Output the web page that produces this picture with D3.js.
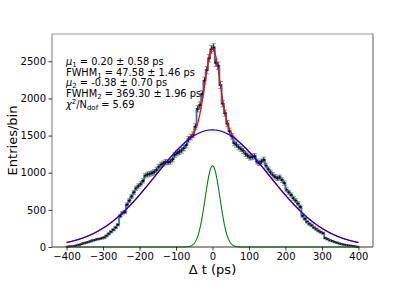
<!DOCTYPE html>
<html><head><meta charset="utf-8">
<script src="https://cdn.jsdelivr.net/npm/d3@7"></script>
<style>body{margin:0;background:#fff}svg{display:block}text{font-family:"DejaVu Sans",sans-serif}</style>
</head><body>
<svg id="c" width="415" height="283"></svg>
<script>
// Histogram: 128 bins of 6.25 ps from -400 to 400
const binStart = -400, binWidth = 6.25;
const counts = [6,9,12,16,22,30,38,50,58,66,76,88,95,104,110,118,128,150,178,205,232,262,300,415,455,470,570,625,680,735,790,820,850,890,960,975,985,995,1010,1040,1080,1110,1125,1145,1140,1150,1180,1240,1262,1280,1300,1330,1372,1450,1480,1510,1620,1860,1910,2060,2240,2380,2540,2660,2685,2480,2440,2180,1930,1800,1660,1560,1490,1400,1378,1345,1320,1295,1255,1230,1205,1215,1222,1150,1130,1150,1175,1095,1045,1005,972,945,925,938,900,860,770,735,700,655,625,585,540,420,380,340,310,290,262,240,218,200,185,120,105,90,80,68,58,48,40,33,27,22,18,12,8,4];
// Fit parameters (double Gaussian)
const mu1 = 0.20, fwhm1 = 47.58, amp1 = 1093;
const mu2 = -0.38, fwhm2 = 369.30, amp2 = 1577;
const xTicks = [-400,-300,-200,-100,0,100,200,300,400];
const yTicks = [0,500,1000,1500,2000,2500];
const fitLines = [
  [["μ",{i:1}],["1",{sub:1}],[" = 0.20 ± 0.58 ps"]],
  [["FWHM"],["1",{sub:1}],[" = 47.58 ± 1.46 ps"]],
  [["μ",{i:1}],["2",{sub:1}],[" = -0.38 ± 0.70 ps"]],
  [["FWHM"],["2",{sub:1}],[" = 369.30 ± 1.96 ps"]],
  [["χ",{i:1}],["2",{sup:1}],["/N"],["dof",{sub:1}],["  = 5.69"]]
];

const svg = d3.select("#c");
const L=52, R=373, T=34, B=247;
const x = d3.scaleLinear().domain([-440,440]).range([L,R]);
const y = d3.scaleLinear().domain([0,2867]).range([B,T]);

const bins = counts.map((v,i)=>({x0:binStart+i*binWidth, x1:binStart+(i+1)*binWidth, c:binStart+(i+0.5)*binWidth, v, e:Math.sqrt(v)}));

const g = svg.append("g");
// step histogram
const stepPts = [];
bins.forEach(b=>{stepPts.push([b.x0,b.v]);stepPts.push([b.x1,b.v]);});
g.append("path").attr("d", d3.line().x(d=>x(d[0])).y(d=>y(d[1]))(stepPts))
 .attr("fill","none").attr("stroke","#1f77b4").attr("stroke-width",1.8);
// error bars
const eb = g.append("g");
bins.forEach(b=>{
  const cx = x(b.c);
  eb.append("line").attr("x1",cx).attr("x2",cx).attr("y1",y(b.v-b.e)).attr("y2",y(b.v+b.e)).attr("stroke","#000").attr("stroke-width",0.9);
  [b.v-b.e,b.v+b.e].forEach(t=>eb.append("line").attr("x1",cx-2.2).attr("x2",cx+2.2).attr("y1",y(t)).attr("y2",y(t)).attr("stroke","#777").attr("stroke-width",1).attr("opacity",0.8));
  eb.append("line").attr("x1",cx-1.2).attr("x2",cx+1.2).attr("y1",y(b.v)).attr("y2",y(b.v)).attr("stroke","#000").attr("stroke-width",1.5);
});
// fit curves
const s1 = fwhm1/(2*Math.sqrt(2*Math.LN2)), s2 = fwhm2/(2*Math.sqrt(2*Math.LN2));
const g1 = t=>amp1*Math.exp(-0.5*((t-mu1)/s1)**2);
const g2 = t=>amp2*Math.exp(-0.5*((t-mu2)/s2)**2);
const ts = d3.range(-400,400.01,1);
const line = d3.line().x(d=>x(d[0])).y(d=>y(d[1]));
g.append("path").attr("d",line(ts.map(t=>[t,g1(t)+g2(t)]))).attr("fill","none").attr("stroke","red").attr("stroke-width",1.2);
g.append("path").attr("d",line(ts.map(t=>[t,g2(t)]))).attr("fill","none").attr("stroke","blue").attr("stroke-width",1.1);
g.append("path").attr("d",line(ts.map(t=>[t,g1(t)]))).attr("fill","none").attr("stroke","green").attr("stroke-width",1.1);

// frame
svg.append("line").attr("x1",L).attr("x2",R).attr("y1",T).attr("y2",T).attr("stroke","#999").attr("stroke-width",1);
svg.append("line").attr("x1",R).attr("x2",R).attr("y1",T).attr("y2",B).attr("stroke","#555").attr("stroke-width",1);
svg.append("line").attr("x1",L).attr("x2",L).attr("y1",T).attr("y2",B).attr("stroke","#777").attr("stroke-width",1);
svg.append("line").attr("x1",L).attr("x2",R).attr("y1",B).attr("y2",B).attr("stroke","#333").attr("stroke-width",1);

// axes
const xa = svg.append("g").attr("transform",`translate(0,${B})`)
  .call(d3.axisBottom(x).tickValues(xTicks).tickSize(3.5).tickPadding(2.5).tickFormat(d=>d<0?"−"+Math.abs(d):String(d)));
const ya = svg.append("g").attr("transform",`translate(${L},0)`)
  .call(d3.axisLeft(y).tickValues(yTicks).tickSize(3.5).tickPadding(2.5).tickFormat(d=>String(d)));
[xa,ya].forEach(a=>{a.select(".domain").remove();a.selectAll("text").attr("font-size",10).attr("fill","#000").attr("font-family","DejaVu Sans");a.selectAll("line").attr("stroke","#000").attr("stroke-width",0.8);});

svg.append("text").attr("x",(L+R)/2).attr("y",274).attr("text-anchor","middle").attr("font-size",13).text("Δ t (ps)");
svg.append("text").attr("transform",`translate(17,${(T+B)/2}) rotate(-90)`).attr("text-anchor","middle").attr("font-size",13).text("Entries/bin");

// fit text
const baselines = [64.8,75.5,86.2,96.9,108];
fitLines.forEach((parts,k)=>{
  const t = svg.append("text").attr("x",66).attr("y",baselines[k]).attr("font-size",9.8);
  parts.forEach(([s,o])=>{
    o = o||{};
    const sp = t.append("tspan").text(s);
    if(o.i) sp.attr("font-style","italic");
    if(o.sub) sp.attr("font-size",7).attr("baseline-shift","-2px");
    if(o.sup) sp.attr("font-size",7).attr("baseline-shift","4px");
  });
});
</script>
</body></html>
